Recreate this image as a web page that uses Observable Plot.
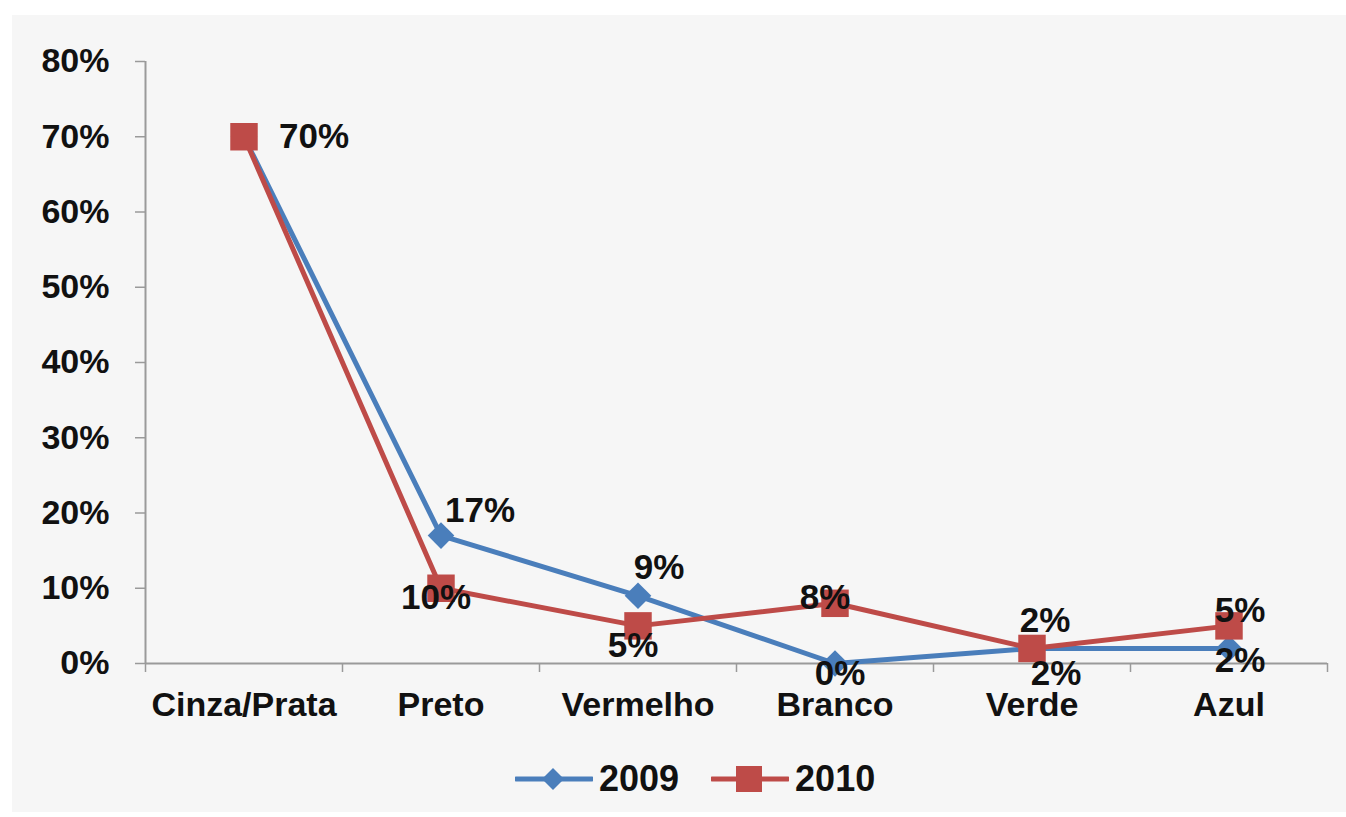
<!DOCTYPE html>
<html>
<head>
<meta charset="utf-8">
<script src="https://cdn.jsdelivr.net/npm/d3@7"></script>
<script src="https://cdn.jsdelivr.net/npm/@observablehq/plot@0.6"></script>
<style>
  html, body { margin: 0; padding: 0; background: #ffffff; }
  body { width: 1346px; height: 817px; position: relative; overflow: hidden;
         font-family: "Liberation Sans", Arial, sans-serif; }
  #bg { position: absolute; left: 12px; top: 15px; right: 0; bottom: 5px; background: #f6f6f6; }
  #chart { position: absolute; left: 0; top: 0; }
  #legend { position: absolute; left: 515px; top: 740px; height: 77px; display: flex; align-items: center;
            font-weight: bold; font-size: 36px; color: #111; }
  .item { display: flex; align-items: center; margin-right: 32px; }
  .item svg { margin-right: 6px; }
</style>
</head>
<body>
<div id="bg"></div>
<div id="chart"></div>
<div id="legend"></div>
<script>
// ---- data ----
const categories = ["Cinza/Prata", "Preto", "Vermelho", "Branco", "Verde", "Azul"];
const series = ["2009", "2010"];
const values2009 = [0.70, 0.17, 0.09, 0.00, 0.02, 0.02];
const values2010 = [0.70, 0.10, 0.05, 0.08, 0.02, 0.05];
const yTicks = [0, 0.1, 0.2, 0.3, 0.4, 0.5, 0.6, 0.7, 0.8];

// ---- style ----
const colors = ["#4a7ebb", "#be4b48"];
const symbols = ["diamond2", "square"];
const symbolR = [12, 15.5];
// label offsets per point [dx, dy, anchor]; null = no label shown
const labelPlace2009 = [null, [39, -25], [21, -28], [5, 10], [24, 25], [11, 12]];
const labelPlace2010 = [[35, 0, "start"], [-5, 10], [-5, 20], [-10, -6], [13, -28], [11, -15]];

const valuesBySeries = [values2009, values2010];
const placesBySeries = [labelPlace2009, labelPlace2010];
const fmt = d3.format(".0%");

const rows = series.map((s, k) => categories.map((c, i) => ({cat: c, i, year: s, v: valuesBySeries[k][i]})));

const marks = [];
// axes
marks.push(Plot.ruleX([-0.5], {y1: 0, y2: 0.8, stroke: "#9a9a9a", strokeWidth: 2}));
marks.push(Plot.ruleY([0], {stroke: "#9a9a9a", strokeWidth: 2}));
marks.push(Plot.axisY({ticks: yTicks, tickFormat: fmt, tickSize: 10, tickPadding: 26, label: null,
  fontSize: 34, fontWeight: "bold", stroke: "#9a9a9a", fill: "#111", strokeWidth: 1.5}));
marks.push(Plot.axisX({ticks: d3.range(categories.length + 1).map(i => i - 0.5), tickSize: 9, label: null,
  tickFormat: () => null, stroke: "#9a9a9a", strokeWidth: 1.5}));
marks.push(Plot.axisX({ticks: d3.range(categories.length), tickFormat: i => categories[i], label: null,
  tickSize: 0, tickPadding: 28, fontSize: 34, fontWeight: "bold", fill: "#111"}));

// series
series.forEach((s, k) => {
  marks.push(Plot.line(rows[k], {x: "i", y: "v", stroke: colors[k], strokeWidth: 5,
    strokeLinejoin: "round"}));
  marks.push(Plot.dot(rows[k], {x: "i", y: "v", symbol: symbols[k], r: symbolR[k],
    fill: colors[k], stroke: "none"}));
});

// data labels
series.forEach((s, k) => {
  rows[k].forEach((d, i) => {
    const p = placesBySeries[k][i];
    if (!p) return;
    marks.push(Plot.text([d], {x: "i", y: "v", text: d => fmt(d.v), dx: p[0], dy: p[1],
      textAnchor: p[2] || "middle", fontSize: 35, fontWeight: "bold", fill: "#111"}));
  });
});

const chart = Plot.plot({
  width: 1346,
  height: 740,
  marginLeft: 145,
  marginRight: 19,
  marginTop: 61,
  marginBottom: 77,
  x: {domain: [-0.5, categories.length - 0.5], axis: null, label: null},
  y: {domain: [0, 0.8], axis: null, label: null},
  style: {background: "transparent", fontFamily: "'Liberation Sans', Arial, sans-serif", color: "#111"},
  marks
});
document.getElementById("chart").append(chart);

// legend
const legend = document.getElementById("legend");
series.forEach((s, k) => {
  const item = document.createElement("div");
  item.className = "item";
  const sw = d3.create("svg").attr("width", 78).attr("height", 30);
  sw.append("line").attr("x1", 1).attr("x2", 77).attr("y1", 15).attr("y2", 15)
    .attr("stroke", colors[k]).attr("stroke-width", 5).attr("stroke-linecap", "round");
  if (k === 0) {
    sw.append("path").attr("d", "M38,4 L49,15 L38,26 L27,15 Z").attr("fill", colors[k]);
  } else {
    sw.append("rect").attr("x", 25).attr("y", 2).attr("width", 26).attr("height", 26).attr("fill", colors[k]);
  }
  item.append(sw.node());
  const t = document.createElement("span");
  t.textContent = s;
  item.append(t);
  legend.append(item);
});
</script>
</body>
</html>
